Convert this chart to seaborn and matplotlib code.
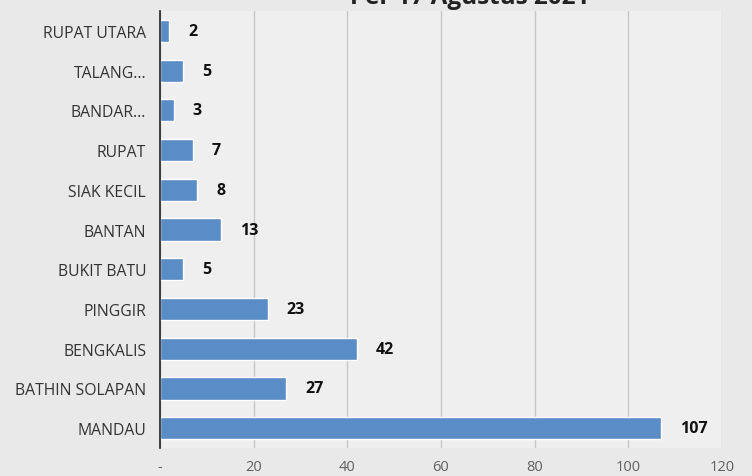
import matplotlib
matplotlib.use("Agg")
import matplotlib.pyplot as plt
import seaborn as sns
import pandas as pd

# data (top to bottom)
kecamatan = ["RUPAT UTARA", "TALANG...", "BANDAR...", "RUPAT", "SIAK KECIL",
             "BANTAN", "BUKIT BATU", "PINGGIR", "BENGKALIS", "BATHIN SOLAPAN", "MANDAU"]
jumlah = [2, 5, 3, 7, 8, 13, 5, 23, 42, 27, 107]
x_ticks = [0, 20, 40, 60, 80, 100, 120]
x_tick_labels = ["-", "20", "40", "60", "80", "100", "120"]

df = pd.DataFrame({"Kecamatan": kecamatan, "Jumlah": jumlah})

sns.set_theme(style="white")
plt.rcParams["font.family"] = ["Open Sans", "DejaVu Sans"]

fig = plt.figure(figsize=(7.52, 4.77), dpi=100, facecolor="#e9e9e9")
ax = fig.add_axes([0.2128, 0.0587, 0.747, 0.916])
ax.set_facecolor("#efefef")

sns.barplot(data=df, x="Jumlah", y="Kecamatan", orient="h", color="#5a8cc6",
            width=0.56, ax=ax, saturation=1)

ax.set_xlim(0, 120)
ax.set_ylim(10.5, -0.5)
ax.set_xticks(x_ticks)
ax.set_xticklabels(x_tick_labels, color="#606060", fontsize=10.5)
ax.tick_params(axis="x", length=0, pad=8)
ax.tick_params(axis="y", length=4, color="#333333", labelsize=11.3, labelcolor="#333333", pad=6)
ax.grid(axis="x", color="#c8c8c8", linewidth=1)
ax.set_axisbelow(True)
for s in ["top", "right", "bottom"]:
    ax.spines[s].set_visible(False)
ax.spines["left"].set_color("#222222")
ax.spines["left"].set_linewidth(1.2)
ax.set_xlabel("")
ax.set_ylabel("")

# value labels
for i, v in enumerate(jumlah):
    ax.text(v + 4, i, str(v), va="center", ha="left", fontsize=11.5,
            fontweight="bold", color="#111111")

# title, cut off at the top of the photo
fig.text(0.625, 1.004, "Per 17 Agustus 2021", ha="center", va="center",
         fontsize=17.5, fontweight="bold", color="#222222")

fig.savefig("out.png", dpi=100, facecolor=fig.get_facecolor())
